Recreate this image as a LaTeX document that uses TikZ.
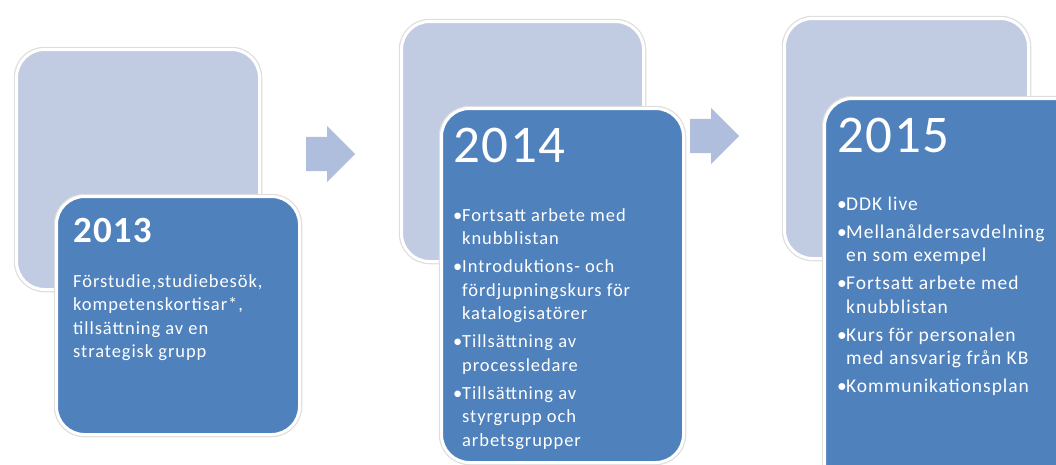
\documentclass[tikz,border=0pt]{standalone}
\usepackage{fontspec}
\setmainfont{Carlito}
\newfontfamily\brett[LetterSpace=5]{Carlito}
\newfontfamily\artal[LetterSpace=3]{Carlito}
\usepackage{xcolor}
\usepackage{tikz}
\usetikzlibrary{shapes.arrows}

\definecolor{ljus}{RGB}{193,204,226}
\definecolor{mork}{RGB}{79,129,189}
\definecolor{pilfarg}{RGB}{174,190,220}
\newcommand{\pkt}{\makebox[9pt][l]{\textbullet}}

\begin{document}
\begin{tikzpicture}[x=1pt,y=-1pt]
\tikzstyle{ruta}=[rectangle,rounded corners=28pt,inner sep=0pt,anchor=north west,
  preaction={draw=black!13,line width=5.5pt},draw=white,line width=3pt]
\tikzstyle{bak}=[ruta,fill=ljus]
\tikzstyle{fram}=[ruta,fill=mork]
\tikzstyle{pil}=[single arrow,fill=pilfarg,inner xsep=0pt,inner ysep=17pt,
  single arrow head extend=11pt,minimum height=49pt,anchor=tail]
\tikzstyle{ar}=[text=white,inner sep=0pt,anchor=base west]
\tikzstyle{lista}=[text=white,inner sep=0pt,anchor=base west,
  font=\brett\fontsize{18.5}{23.5}\selectfont]
\useasboundingbox (0,0) rectangle (1056,464);
\clip (0,0) rectangle (1056,464);
% bakre rutor
\node[bak,minimum width=243pt,minimum height=240pt] (b1) at (15,48) {};
\node[bak,minimum width=242pt,minimum height=240pt] (b2) at (400,20) {};
\node[bak,minimum width=244pt,minimum height=240pt] (b3) at (783,17) {};
% främre rutor
\node[fram,minimum width=243pt,minimum height=238pt] (f1) at (55,195) {};
\node[fram,minimum width=242pt,minimum height=354pt] (f2) at (440,107) {};
\node[fram,minimum width=262pt,minimum height=400pt] (f3) at (823,97) {};
% pilar
\node[pil] (p1) at (306,154) {};
\node[pil] (p2) at (690,136) {};
% 2013
\node[ar,font=\artal\bfseries\fontsize{37}{40}\selectfont] (a1) at (73,242) {2013};
\node[lista] (l1) at (73,287) {\begin{tabular}[t]{@{}l@{}}
Förstudie,studiebesök,\\
kompetenskortisar*,\\
tillsättning av en\\
strategisk grupp
\end{tabular}};
% 2014
\node[ar,font=\artal\fontsize{53}{56}\selectfont] (a2) at (453,162) {2014};
\node[lista] (l2) at (453,221) {\begin{tabular}[t]{@{}l@{}l@{}}
\pkt & Fortsatt arbete med\\
 & knubblistan\\[4.5pt]
\pkt & Introduktions- och\\
 & fördjupningskurs för\\
 & katalogisatörer\\[4.5pt]
\pkt & Tillsättning av\\
 & processledare\\[4.5pt]
\pkt & Tillsättning av\\
 & styrgrupp och\\
 & arbetsgrupper
\end{tabular}};
% 2015
\node[ar,font=\artal\fontsize{53}{56}\selectfont] (a3) at (837,152) {2015};
\node[lista,font=\brett\fontsize{19.5}{23.5}\selectfont] (l3) at (837,210) {\begin{tabular}[t]{@{}l@{}l@{}}
\pkt & DDK live\\[4.5pt]
\pkt & Mellanåldersavdelning\\
 & en som exempel\\[4.5pt]
\pkt & Fortsatt arbete med\\
 & knubblistan\\[4.5pt]
\pkt & Kurs för personalen\\
 & med ansvarig från KB\\[4.5pt]
\pkt & Kommunikationsplan
\end{tabular}};
\end{tikzpicture}
\end{document}
